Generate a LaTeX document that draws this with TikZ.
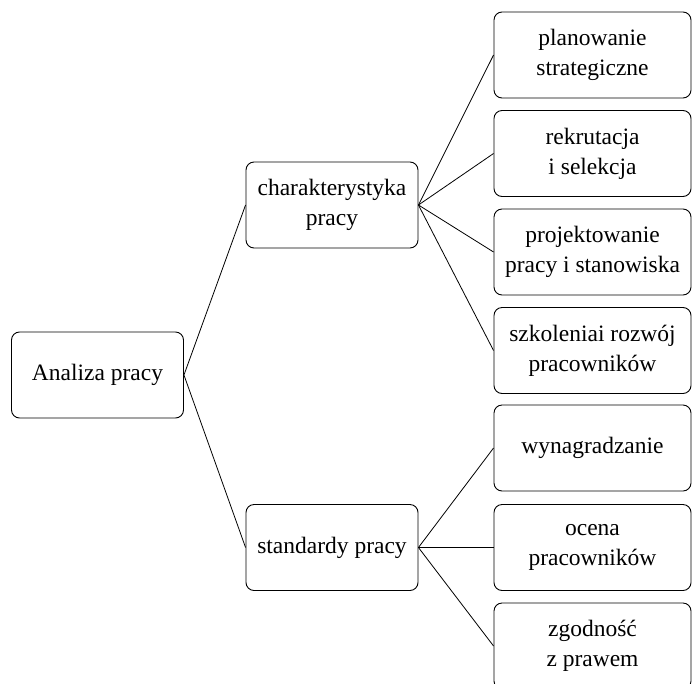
\documentclass[tikz,border=0pt]{standalone}
\usepackage{fontspec}
\setmainfont{Liberation Serif}
\newfontfamily\boxfont{Liberation Serif}
\tikzset{
  box/.style={draw, rounded corners=8pt, line width=0.9pt, align=center,
    inner sep=0pt, font=\boxfont\fontsize{23.5}{30}\selectfont},
  leftbox/.style={box, minimum width=172pt, minimum height=86pt},
  rightbox/.style={box, minimum width=197pt, minimum height=86pt},
  link/.style={line width=0.8pt}
}
\begin{document}
\begin{tikzpicture}[x=1pt, y=-1pt]
     \useasboundingbox (0, 0) rectangle (693, 683);

     \node[leftbox] (analiza) at(97.5, 375){Analiza pracy};
        \node[leftbox] (charakt) at(332, 205){charakterystyka\\pracy};
        \node[leftbox] (standard) at(332, 547.5){standardy pracy};

            \node[rightbox] (planow) at(592.5, 55){planowanie\\strategiczne};
            \node[rightbox] (rekrut) at(592.5, 153.5){rekrutacja\\i selekcja};
            \node[rightbox] (projekt) at(592.5, 252){projektowanie\\pracy i stanowiska};
            \node[rightbox] (szkol) at(592.5, 350.5){szkoleniai rozwój\\pracowników};

            \node[rightbox] (wynagr) at(592.5, 448){wynagradzanie};
            \node[rightbox] (ocena) at(592.5, 547.5){ocena\\pracowników};
            \node[rightbox] (zgodn) at(592.5, 646){zgodność\\z prawem};

        \draw[link] (analiza.east) -- (charakt.west);
        \draw[link] (analiza.east) -- (standard.west);

        \draw[link] (charakt.east) -- (planow.west);
        \draw[link] (charakt.east) -- (rekrut.west);
        \draw[link] (charakt.east) -- (projekt.west);
        \draw[link] (charakt.east) -- (szkol.west);

        \draw[link] (standard.east) -- (wynagr.west);
        \draw[link] (standard.east) -- (ocena.west);
        \draw[link] (standard.east) -- (zgodn.west);

    \end{tikzpicture}
\end{document}
